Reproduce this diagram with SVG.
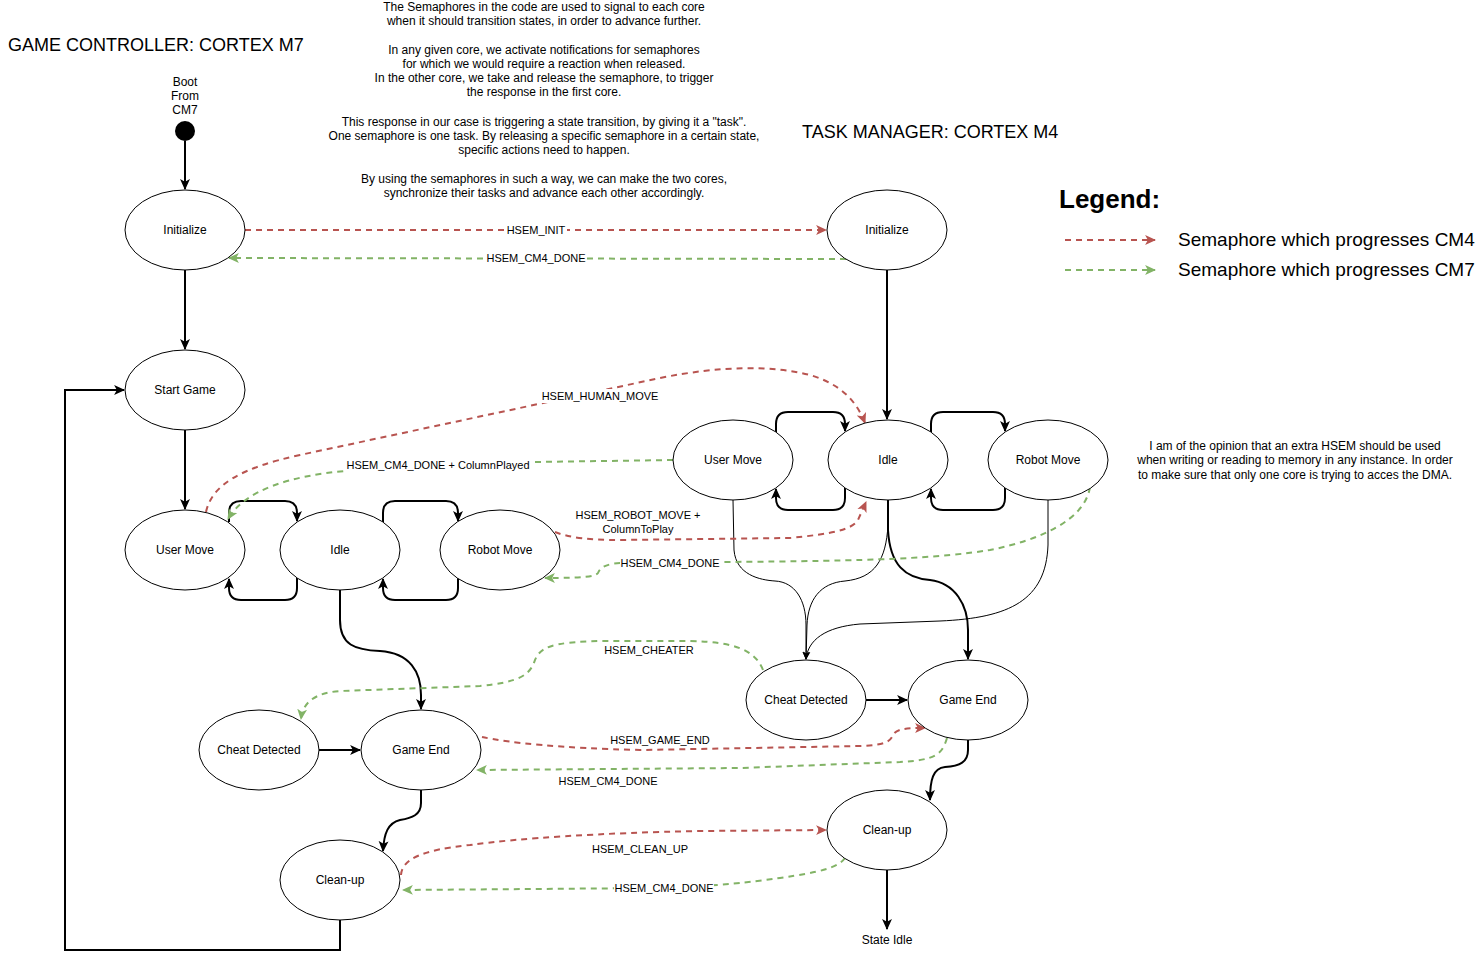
<svg xmlns="http://www.w3.org/2000/svg" width="1481" height="960" viewBox="0 0 1481 960">
<style>
text{font-family:"Liberation Sans",Arial,sans-serif;fill:#000}
.n ellipse{fill:#fff;stroke:#000;stroke-width:1}
.n text{font-size:12px;text-anchor:middle}
.e{fill:none;stroke:#000;stroke-width:2}
.t{fill:none;stroke:#000;stroke-width:1}
.r{fill:none;stroke:#b85450;stroke-width:2;stroke-dasharray:6 5}
.g{fill:none;stroke:#82b366;stroke-width:2;stroke-dasharray:6 5}
.el{font-size:11px;text-anchor:middle}
.bg{fill:#fff}
.note{font-size:12px;text-anchor:middle;fill:#222}
</style>
<defs>
<marker id="ak" viewBox="0 0 10 10" refX="9" refY="5" markerWidth="11" markerHeight="11" markerUnits="userSpaceOnUse" orient="auto"><path d="M0,0.5 L10,5 L0,9.5 L2.5,5 Z" fill="#000"/></marker>
<marker id="at" viewBox="0 0 10 10" refX="9" refY="5" markerWidth="8" markerHeight="8" markerUnits="userSpaceOnUse" orient="auto"><path d="M0,0.5 L10,5 L0,9.5 L2.5,5 Z" fill="#000"/></marker>
<marker id="ar" viewBox="0 0 10 10" refX="9" refY="5" markerWidth="11" markerHeight="11" markerUnits="userSpaceOnUse" orient="auto"><path d="M0,0.5 L10,5 L0,9.5 L2.5,5 Z" fill="#b85450"/></marker>
<marker id="ag" viewBox="0 0 10 10" refX="9" refY="5" markerWidth="11" markerHeight="11" markerUnits="userSpaceOnUse" orient="auto"><path d="M0,0.5 L10,5 L0,9.5 L2.5,5 Z" fill="#82b366"/></marker>
</defs>

<rect width="1481" height="960" fill="#fff"/>

<!-- titles and notes -->
<text x="8" y="51" font-size="18">GAME CONTROLLER: CORTEX M7</text>
<text x="802" y="138" font-size="18">TASK MANAGER: CORTEX M4</text>
<g class="note">
<text x="544" y="11">The Semaphores in the code are used to signal to each core</text>
<text x="544" y="25">when it should transition states, in order to advance further.</text>
<text x="544" y="54">In any given core, we activate notifications for semaphores</text>
<text x="544" y="68">for which we would require a reaction when released.</text>
<text x="544" y="82">In the other core, we take and release the semaphore, to trigger</text>
<text x="544" y="96">the response in the first core.</text>
<text x="544" y="126">This response in our case is triggering a state transition, by giving it a "task".</text>
<text x="544" y="140">One semaphore is one task. By releasing a specific semaphore in a certain state,</text>
<text x="544" y="154">specific actions need to happen.</text>
<text x="544" y="183">By using the semaphores in such a way, we can make the two cores,</text>
<text x="544" y="197">synchronize their tasks and advance each other accordingly.</text>
<text x="1295" y="450">I am of the opinion that an extra HSEM should be used</text>
<text x="1295" y="464">when writing or reading to memory in any instance. In order</text>
<text x="1295" y="479">to make sure that only one core is trying to acces the DMA.</text>
</g>

<!-- legend -->
<g id="legend">
<text x="1059" y="208" font-size="26" font-weight="bold">Legend:</text>
<path class="r" d="M1065,240 L1155,240" marker-end="url(#ar)"/>
<path class="g" d="M1065,270 L1155,270" marker-end="url(#ag)"/>
<text x="1178" y="246" font-size="19">Semaphore which progresses CM4</text>
<text x="1178" y="276" font-size="19">Semaphore which progresses CM7</text>
</g>

<!-- connectors -->
<g id="connectors">
<!-- CM7 -->
<path class="e" d="M185,141 L185,189" marker-end="url(#ak)"/>
<path class="e" d="M185,270 L185,349" marker-end="url(#ak)"/>
<path class="e" d="M185,430 L185,509" marker-end="url(#ak)"/>
<path class="e" d="M229,522 L229,513 Q229,501 241,501 L285,501 Q297,501 297,513 L297,521" marker-end="url(#ak)"/>
<path class="e" d="M297,578 L297,588 Q297,600 285,600 L241,600 Q229,600 229,588 L229,579" marker-end="url(#ak)"/>
<path class="e" d="M383,522 L383,513 Q383,501 395,501 L446,501 Q458,501 458,513 L458,521" marker-end="url(#ak)"/>
<path class="e" d="M458,578 L458,588 Q458,600 446,600 L395,600 Q383,600 383,588 L383,579" marker-end="url(#ak)"/>
<path class="e" d="M340,590 L340,620 C340,645 355,650 380,651 C410,653 421,672 421,695 L421,709" marker-end="url(#ak)"/>
<path class="e" d="M319,750 L360,750" marker-end="url(#ak)"/>
<path class="e" d="M421,790 L421,803 C421,815 412,818 400,820 C388,823 384,833 383,851" marker-end="url(#ak)"/>
<path class="e" d="M340,920 L340,950 L65,950 L65,390 L124,390" marker-end="url(#ak)"/>
<!-- CM4 -->
<path class="e" d="M887,270 L887,419" marker-end="url(#ak)"/>
<path class="e" d="M776,432 L776,424 Q776,412 788,412 L833,412 Q845,412 845,424 L845,431" marker-end="url(#ak)"/>
<path class="e" d="M845,488 L845,498 Q845,510 833,510 L788,510 Q776,510 776,498 L776,489" marker-end="url(#ak)"/>
<path class="e" d="M931,432 L931,424 Q931,412 943,412 L993,412 Q1005,412 1005,424 L1005,431" marker-end="url(#ak)"/>
<path class="e" d="M1005,488 L1005,498 Q1005,510 993,510 L943,510 Q931,510 931,498 L931,489" marker-end="url(#ak)"/>
<path class="t" d="M733,500 L734,550 C736,575 760,580 775,581 C795,582 806,600 806,625 L806,659" marker-end="url(#at)"/>
<path class="t" d="M888,500 L888,525 C886,560 875,578 845,581 C820,583 808,600 807,625 L806,659" marker-end="url(#at)"/>
<path class="t" d="M1048,500 L1048,545 C1046,600 1010,618 940,621 L860,624 C825,627 808,640 806,659" marker-end="url(#at)"/>
<path class="e" d="M888,500 L888,530 C890,565 905,578 930,580 C955,583 968,605 968,630 L968,659" marker-end="url(#ak)"/>
<path class="e" d="M866,700 L907,700" marker-end="url(#ak)"/>
<path class="e" d="M968,740 L968,750 C968,762 960,766 945,767 C933,768 930,780 930,800" marker-end="url(#ak)"/>
<path class="e" d="M887,870 L887,929" marker-end="url(#ak)"/>

<!-- semaphores -->
<path class="r" d="M245,230 L826,230" marker-end="url(#ar)"/>
<path class="g" d="M846,259 L229,258" marker-end="url(#ag)"/>
<path class="r" d="M206,512 C212,485 240,468 300,455 L660,378 C720,366 770,365 810,375 C840,384 856,400 865,423" marker-end="url(#ar)"/>
<path class="g" d="M673,460 L535,462 C480,463 420,465 345,471 C290,476 245,490 228,519" marker-end="url(#ag)"/>
<path class="r" d="M555,532 C570,538 590,540 620,540 L790,538 C830,534 852,530 858,520 L866,502" marker-end="url(#ar)"/>
<path class="g" d="M1090,487 C1085,520 1040,540 990,550 C940,558 880,561 720,562 L620,563 C605,564 600,568 598,573 C595,577 580,578 545,578" marker-end="url(#ag)"/>
<path class="g" d="M763,670 C755,650 735,642 690,641 L600,641 C550,642 540,648 535,660 C530,675 520,682 480,686 L340,691 C315,693 303,702 301,719" marker-end="url(#ag)"/>
<path class="r" d="M482,737 C510,743 560,748 640,750 L860,746 C885,745 890,742 893,735 C896,729 905,728 925,728" marker-end="url(#ar)"/>
<path class="g" d="M947,738 C942,755 935,760 900,762 L740,768 L477,770" marker-end="url(#ag)"/>
<path class="r" d="M401,875 C402,860 420,850 470,845 C520,838 600,833 700,831 L826,830" marker-end="url(#ar)"/>
<path class="g" d="M845,858 C838,868 820,872 780,878 C750,882 720,886 660,888 L403,890" marker-end="url(#ag)"/>

<!-- edge labels -->
<rect class="bg" x="505" y="223" width="62" height="14"/>
<text class="el" x="536" y="234">HSEM_INIT</text>
<rect class="bg" x="486" y="251" width="100" height="14"/>
<text class="el" x="536" y="262">HSEM_CM4_DONE</text>
<rect class="bg" x="541" y="389" width="118" height="14"/>
<text class="el" x="600" y="400">HSEM_HUMAN_MOVE</text>
<rect class="bg" x="346" y="458" width="185" height="14"/>
<text class="el" x="438" y="469">HSEM_CM4_DONE + ColumnPlayed</text>
<text class="el" x="638" y="519">HSEM_ROBOT_MOVE +</text>
<text class="el" x="638" y="533">ColumnToPlay</text>
<rect class="bg" x="620" y="556" width="100" height="14"/>
<text class="el" x="670" y="567">HSEM_CM4_DONE</text>
<text class="el" x="649" y="654">HSEM_CHEATER</text>
<text class="el" x="660" y="744">HSEM_GAME_END</text>
<text class="el" x="608" y="785">HSEM_CM4_DONE</text>
<text class="el" x="640" y="853">HSEM_CLEAN_UP</text>
<rect class="bg" x="614" y="881" width="100" height="14"/>
<text class="el" x="664" y="892">HSEM_CM4_DONE</text>
</g>

<!-- CM7 nodes -->
<g id="boot">
<text x="185" y="86" font-size="12" text-anchor="middle">Boot</text>
<text x="185" y="100" font-size="12" text-anchor="middle">From</text>
<text x="185" y="114" font-size="12" text-anchor="middle">CM7</text>
<circle cx="185" cy="131" r="10" fill="#000"/>
</g>
<g id="m7-init" class="n"><ellipse cx="185" cy="230" rx="60" ry="40"/><text x="185" y="234">Initialize</text></g>
<g id="m7-start" class="n"><ellipse cx="185" cy="390" rx="60" ry="40"/><text x="185" y="394">Start Game</text></g>
<g id="m7-user" class="n"><ellipse cx="185" cy="550" rx="60" ry="40"/><text x="185" y="554">User Move</text></g>
<g id="m7-idle" class="n"><ellipse cx="340" cy="550" rx="60" ry="40"/><text x="340" y="554">Idle</text></g>
<g id="m7-robot" class="n"><ellipse cx="500" cy="550" rx="60" ry="40"/><text x="500" y="554">Robot Move</text></g>
<g id="m7-cheat" class="n"><ellipse cx="259" cy="750" rx="60" ry="40"/><text x="259" y="754">Cheat Detected</text></g>
<g id="m7-end" class="n"><ellipse cx="421" cy="750" rx="60" ry="40"/><text x="421" y="754">Game End</text></g>
<g id="m7-clean" class="n"><ellipse cx="340" cy="880" rx="60" ry="40"/><text x="340" y="884">Clean-up</text></g>

<!-- CM4 nodes -->
<g id="m4-init" class="n"><ellipse cx="887" cy="230" rx="60" ry="40"/><text x="887" y="234">Initialize</text></g>
<g id="m4-user" class="n"><ellipse cx="733" cy="460" rx="60" ry="40"/><text x="733" y="464">User Move</text></g>
<g id="m4-idle" class="n"><ellipse cx="888" cy="460" rx="60" ry="40"/><text x="888" y="464">Idle</text></g>
<g id="m4-robot" class="n"><ellipse cx="1048" cy="460" rx="60" ry="40"/><text x="1048" y="464">Robot Move</text></g>
<g id="m4-cheat" class="n"><ellipse cx="806" cy="700" rx="60" ry="40"/><text x="806" y="704">Cheat Detected</text></g>
<g id="m4-end" class="n"><ellipse cx="968" cy="700" rx="60" ry="40"/><text x="968" y="704">Game End</text></g>
<g id="m4-clean" class="n"><ellipse cx="887" cy="830" rx="60" ry="40"/><text x="887" y="834">Clean-up</text></g>
<g id="m4-stateidle"><text x="887" y="944" font-size="12" text-anchor="middle">State Idle</text></g>
</svg>
